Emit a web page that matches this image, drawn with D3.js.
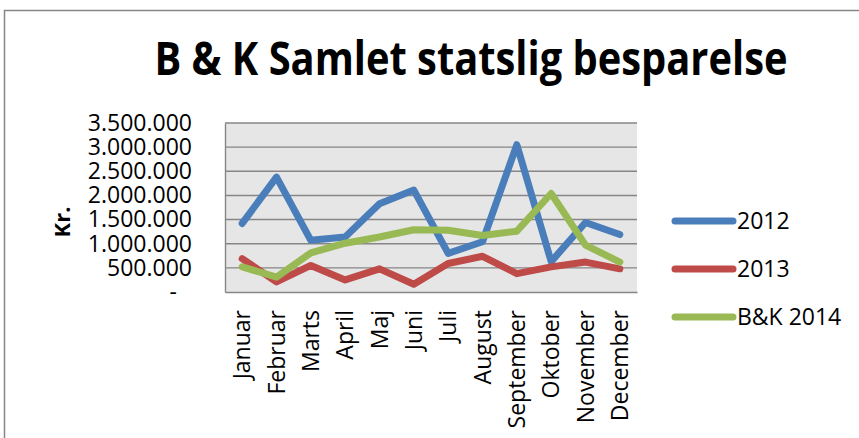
<!DOCTYPE html>
<html>
<head>
<meta charset="utf-8">
<script src="https://cdn.jsdelivr.net/npm/d3@7"></script>
<style>
  body { margin: 0; background: #fff; }
  text { font-family: "Open Sans", sans-serif; fill: #000; }
</style>
</head>
<body>
<svg id="chart" width="859" height="438"></svg>
<script>
// data
var months = ["Januar", "Februar", "Marts", "April", "Maj", "Juni",
              "Juli", "August", "September", "Oktober", "November", "December"];
var values2012 = [1420000, 2380000, 1070000, 1140000, 1830000, 2110000,
                  800000, 1040000, 3050000, 630000, 1440000, 1190000];
var values2013 = [690000, 210000, 550000, 250000, 480000, 160000,
                  590000, 740000, 380000, 520000, 620000, 480000];
var values2014 = [520000, 310000, 810000, 1010000, 1140000, 1290000,
                  1280000, 1170000, 1260000, 2040000, 970000, 620000];
var seriesNames = ["2012", "2013", "B&K 2014"];
var seriesColors = ["#4a7ebb", "#be4b48", "#98b954"];
var yTicks = [0, 500000, 1000000, 1500000, 2000000, 2500000, 3000000, 3500000];

var series = [values2012, values2013, values2014].map(function(v, i) {
    return { name: seriesNames[i], color: seriesColors[i], values: v };
});

var svg = d3.select("#chart");

// outer chart frame
svg.append("rect")
    .attr("x", 4.5).attr("y", 10.5)
    .attr("width", 870).attr("height", 440)
    .style("fill", "#fff")
    .style("stroke", "#868686")
    .style("stroke-width", 1.5);

// title
svg.append("text")
    .attr("x", 471).attr("y", 75)
    .attr("text-anchor", "middle")
    .attr("textLength", 633)
    .attr("lengthAdjust", "spacingAndGlyphs")
    .style("font-size", "46px")
    .style("font-weight", "bold")
    .text("B & K Samlet statslig besparelse");

var plot = { left: 225, top: 123, right: 637, bottom: 292 };

var x = d3.scaleBand()
    .domain(months)
    .range([plot.left, plot.right]);

var y = d3.scaleLinear()
    .domain([0, 3500000])
    .range([plot.bottom, plot.top]);

var loc = d3.formatLocale({ decimal: ",", thousands: ".", grouping: [3], currency: ["", ""] });
var fmt = loc.format(",d");

// plot background
svg.append("rect")
    .attr("x", plot.left).attr("y", plot.top)
    .attr("width", plot.right - plot.left)
    .attr("height", plot.bottom - plot.top)
    .style("fill", "#e6e6e6");

// gridlines
svg.append("g")
    .selectAll("line")
    .data(yTicks.filter(function(d) { return d > 0; }))
    .enter()
    .append("line")
    .attr("x1", plot.left).attr("x2", plot.right)
    .attr("y1", function(d) { return y(d); })
    .attr("y2", function(d) { return y(d); })
    .style("stroke", "#868686")
    .style("stroke-width", 1.4);

// y axis
var yAxis = svg.append("g")
    .attr("transform", "translate(" + plot.left + ",0)")
    .call(d3.axisLeft(y).tickValues(yTicks).tickSize(0).tickPadding(33)
        .tickFormat(function(d) { return d === 0 ? "-" : fmt(d); }));
yAxis.select(".domain").style("stroke", "#868686").style("stroke-width", 1.4);
yAxis.selectAll("text")
    .style("font-size", "23px")
    .style("font-family", "'Open Sans', sans-serif")
    .attr("dx", function(d) { return d === 0 ? -15 : 0; });

// x axis
var xAxis = svg.append("g")
    .attr("transform", "translate(0," + plot.bottom + ")")
    .call(d3.axisBottom(x).tickSize(0).tickPadding(0));
xAxis.select(".domain").style("stroke", "#868686").style("stroke-width", 1.4);
xAxis.selectAll("text")
    .style("font-size", "23px")
    .style("font-family", "'Open Sans', sans-serif")
    .attr("text-anchor", "end")
    .attr("transform", "rotate(-90)")
    .attr("x", -18)
    .attr("y", 0)
    .attr("dy", "0.35em");

// y axis title
svg.append("text")
    .attr("transform", "translate(70,222) rotate(-90)")
    .attr("text-anchor", "middle")
    .style("font-size", "22px")
    .style("font-weight", "bold")
    .text("Kr.");

// lines
var line = d3.line()
    .x(function(d, i) { return x(months[i]) + x.bandwidth() / 2; })
    .y(function(d) { return y(d); });

svg.append("g")
    .selectAll("path")
    .data(series)
    .enter()
    .append("path")
    .attr("d", function(d) { return line(d.values); })
    .style("fill", "none")
    .style("stroke", function(d) { return d.color; })
    .style("stroke-width", 7)
    .style("stroke-linejoin", "round")
    .style("stroke-linecap", "round");

// legend
var legend = svg.append("g")
    .selectAll("g")
    .data(series)
    .enter()
    .append("g")
    .attr("transform", function(d, i) { return "translate(675," + (221 + i * 48) + ")"; });

legend.append("line")
    .attr("x1", 0).attr("x2", 58)
    .style("stroke", function(d) { return d.color; })
    .style("stroke-width", 7)
    .style("stroke-linecap", "round");

legend.append("text")
    .attr("x", 62)
    .attr("dy", "0.35em")
    .style("font-size", "23px")
    .text(function(d) { return d.name; });
</script>
</body>
</html>
